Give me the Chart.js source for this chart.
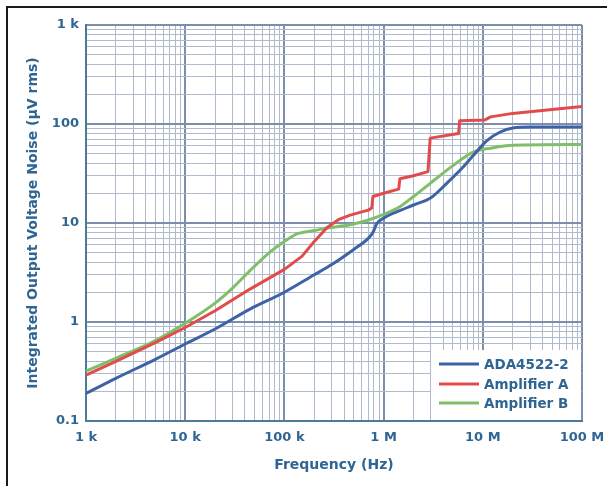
<!DOCTYPE html>
<html>
<head>
<meta charset="utf-8">
<script src="https://cdn.jsdelivr.net/npm/chart.js@4.4.0/dist/chart.umd.min.js"></script>
<style>
  html, body { margin: 0; padding: 0; background: #fff; }
  #wrap { position: relative; width: 607px; height: 486px; overflow: hidden; }
  #frame { position: absolute; left: 6px; top: 6px; width: 620px; height: 500px; border-top: 2px solid #1a1a1a; border-left: 2px solid #1a1a1a; }
  canvas { position: absolute; left: 0; top: 0; }
</style>
</head>
<body>
<div id="wrap">
  <div id="frame"></div>
  <canvas id="myChart" width="607" height="486"></canvas>
</div>
<script>
// series (Hz, uV rms)
var seriesNames = ["ADA4522-2", "Amplifier A", "Amplifier B"];
var seriesColors = ["#3d63a6", "#e24b4b", "#7fbf6a"];

var freqBlue = [1e3, 2e3, 5e3, 1e4, 2e4, 4.5e4, 1e5, 2e5, 3e5, 5e5, 7e5, 7.8e5, 8.5e5, 1e6, 1.5e6, 2e6, 3e6, 4.3e6, 6.3e6, 8e6, 1.1e7, 1.5e7, 2e7, 3e7, 1e8];
var noiseBlue = [0.19, 0.27, 0.42, 0.6, 0.85, 1.35, 2.0, 3.0, 3.8, 5.4, 7.0, 8.0, 9.8, 11.2, 13.5, 15.2, 18, 25, 36.5, 48, 68, 83, 91, 93, 93];

var freqRed = [1e3, 2e3, 5e3, 1e4, 2e4, 4.5e4, 1e5, 1.5e5, 2e5, 2.7e5, 3.5e5, 4.6e5, 7e5, 7.6e5, 7.8e5, 1e6, 1.42e6, 1.46e6, 2e6, 2.8e6, 2.95e6, 5.7e6, 5.85e6, 1.05e7, 1.2e7, 2e7, 5e7, 1e8];
var noiseRed = [0.29, 0.4, 0.62, 0.88, 1.3, 2.15, 3.4, 4.6, 6.5, 9, 10.8, 12, 13.5, 14.2, 18.5, 20, 22, 28, 30, 33, 72, 80, 108, 110, 118, 128, 140, 150];

var freqGreen = [1e3, 2e3, 5e3, 1e4, 2e4, 3e4, 4.5e4, 7e4, 1e5, 1.35e5, 1.6e5, 2e5, 2.7e5, 4.6e5, 6.8e5, 1e6, 1.44e6, 2e6, 2.93e6, 5e6, 8e6, 1.2e7, 2e7, 1e8];
var noiseGreen = [0.32, 0.43, 0.65, 0.97, 1.55, 2.2, 3.3, 5.0, 6.5, 7.8, 8.1, 8.4, 8.9, 9.6, 10.6, 12.2, 14.5, 18.5, 25, 38, 52, 57, 61, 62];

var xTickValues = [1e3, 1e4, 1e5, 1e6, 1e7, 1e8];
var xTickLabels = ["1 k", "10 k", "100 k", "1 M", "10 M", "100 M"];
var yTickValues = [0.1, 1, 10, 100, 1000];
var yTickLabels = ["0.1", "1", "10", "100", "1 k"];

var textColor = "#2f6592";
var gridMinor = "#b0bacd";
var gridMajor = "#7d8eac";
var fontFamily = "'DejaVu Sans', Arial, sans-serif";

function toPoints(xs, ys) {
  return xs.map(function (x, i) {
    return { x: x, y: ys[i] };
  });
}

function findDecade(values, v) {
  for (var i = 0; i < values.length; i++) {
    if (Math.abs(v - values[i]) / values[i] < 1e-6) return i;
  }
  return -1;
}

// 1..9 x 10^n grid ticks between the first and last decade
function logTicks(values) {
  var ticks = [];
  var e0 = Math.round(Math.log10(values[0]));
  var e1 = Math.round(Math.log10(values[values.length - 1]));
  for (var e = e0; e <= e1; e++) {
    for (var m = 1; m <= 9; m++) {
      if (e == e1 && m > 1) break;
      ticks.push({ value: Number((m * Math.pow(10, e)).toPrecision(3)) });
    }
  }
  return ticks;
}

function gridColor(values) {
  return function (c) {
    if (!c.tick) return gridMinor;
    return findDecade(values, c.tick.value) >= 0 ? gridMajor : gridMinor;
  };
}

function gridWidth(values) {
  return function (c) {
    if (!c.tick) return 1;
    return findDecade(values, c.tick.value) >= 0 ? 2 : 1;
  };
}

var insideLegend = {
  id: "insideLegend",
  afterDatasetsDraw: function (chart) {
    var ctx = chart.ctx;
    var a = chart.chartArea;
    ctx.save();
    ctx.fillStyle = "#fff";
    ctx.fillRect(a.right - 151, a.bottom - 71, 150, 70);
    ctx.font = "bold 13.5px " + fontFamily;
    ctx.textBaseline = "middle";
    ctx.textAlign = "left";
    var rows = [a.bottom - 57, a.bottom - 37, a.bottom - 18];
    chart.data.datasets.forEach(function (ds, i) {
      ctx.strokeStyle = ds.borderColor;
      ctx.lineWidth = 3;
      ctx.beginPath();
      ctx.moveTo(a.right - 143, rows[i]);
      ctx.lineTo(a.right - 103, rows[i]);
      ctx.stroke();
      ctx.fillStyle = textColor;
      ctx.fillText(ds.label, a.right - 98, rows[i] + 1);
    });
    ctx.restore();
  },
};

var data = {
  datasets: [
    { label: seriesNames[0], data: toPoints(freqBlue, noiseBlue), borderColor: seriesColors[0], cubicInterpolationMode: "monotone" },
    { label: seriesNames[1], data: toPoints(freqRed, noiseRed), borderColor: seriesColors[1], tension: 0 },
    { label: seriesNames[2], data: toPoints(freqGreen, noiseGreen), borderColor: seriesColors[2], cubicInterpolationMode: "monotone" },
  ],
};

var tickFont = { family: fontFamily, size: 13, weight: "bold" };
var titleFont = { family: fontFamily, size: 14, weight: "bold" };

var config = {
  type: "line",
  data: data,
  plugins: [insideLegend],
  options: {
    responsive: false,
    animation: false,
    layout: { padding: { top: 25, right: 25, left: 0, bottom: 0 } },
    elements: {
      point: { radius: 0 },
      line: { borderWidth: 3, borderJoinStyle: "round", borderCapStyle: "round" },
    },
    plugins: { legend: { display: false }, tooltip: { enabled: false } },
    scales: {
      x: {
        type: "logarithmic",
        min: 1e3,
        max: 1e8,
        afterBuildTicks: function (scale) {
          scale.ticks = logTicks(xTickValues);
        },
        afterFit: function (scale) {
          scale.height = 65;
          scale.paddingLeft = 0;
          scale.paddingRight = 0;
        },
        ticks: {
          autoSkip: false,
          maxRotation: 0,
          padding: 9,
          color: textColor,
          font: tickFont,
          callback: function (value) {
            var i = findDecade(xTickValues, value);
            return i >= 0 ? xTickLabels[i] : "";
          },
        },
        grid: { color: gridColor(xTickValues), lineWidth: gridWidth(xTickValues), drawTicks: false },
        border: { color: "#4d7a9b", width: 2 },
        title: {
          display: true,
          text: "Frequency (Hz)",
          color: textColor,
          font: titleFont,
          padding: { top: 0, bottom: 12 },
        },
      },
      y: {
        type: "logarithmic",
        min: 0.1,
        max: 1000,
        afterBuildTicks: function (scale) {
          scale.ticks = logTicks(yTickValues);
        },
        afterFit: function (scale) {
          scale.width = 86;
          scale.paddingTop = 0;
          scale.paddingBottom = 0;
        },
        ticks: {
          autoSkip: false,
          padding: 7,
          color: textColor,
          font: tickFont,
          callback: function (value) {
            var i = findDecade(yTickValues, value);
            return i >= 0 ? yTickLabels[i] : "";
          },
        },
        grid: { color: gridColor(yTickValues), lineWidth: gridWidth(yTickValues), drawTicks: false },
        border: { color: "#4d7a9b", width: 2 },
        title: {
          display: true,
          text: "Integrated Output Voltage Noise (µV rms)",
          color: textColor,
          font: titleFont,
          padding: { top: 25, bottom: 0 },
        },
      },
    },
  },
};

var myChart = new Chart(document.getElementById("myChart"), config);
</script>
</body>
</html>
